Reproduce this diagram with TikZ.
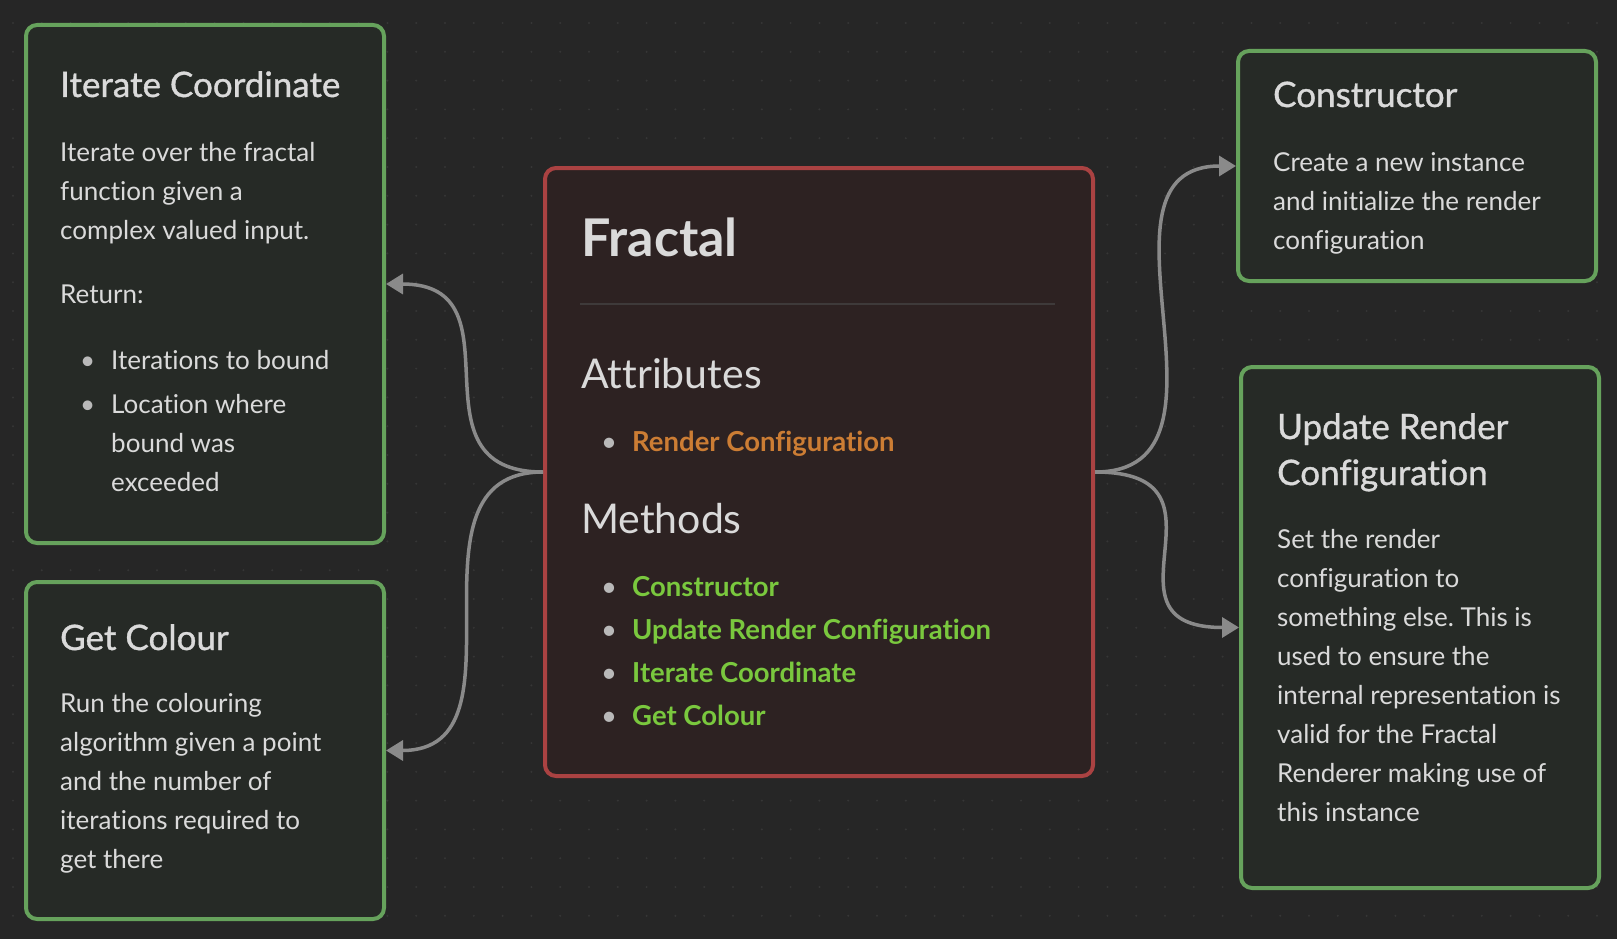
\documentclass[tikz,border=0pt]{standalone}
\usepackage{fontspec}
\setmainfont{Lato}[Ligatures=NoCommon]
\newfontfamily\semifont[FakeBold=1,Ligatures=NoCommon]{Lato}
\usetikzlibrary{arrows.meta,positioning}

\definecolor{canvasbg}{RGB}{38,38,38}
\definecolor{griddot}{RGB}{54,54,54}
\definecolor{cardfill}{RGB}{38,42,38}
\definecolor{cardgreen}{RGB}{102,162,92}
\definecolor{mainfill}{RGB}{45,34,34}
\definecolor{mainred}{RGB}{170,66,66}
\definecolor{textc}{RGB}{218,218,218}
\definecolor{edgegray}{RGB}{138,138,138}
\definecolor{linkorange}{RGB}{204,125,52}
\definecolor{linkgreen}{RGB}{122,200,62}
\definecolor{bulletgray}{RGB}{185,185,185}
\definecolor{rulec}{RGB}{62,58,58}

\newcommand{\dotitem}{\makebox[51pt][l]{\hspace*{20pt}\textcolor{bulletgray}{\textbullet}}}
\newcommand{\dotskip}{\hspace*{51pt}}

\begin{document}
\frenchspacing
\begin{tikzpicture}[
    x=1pt, y=-1pt,
    card/.style={draw=cardgreen, fill=cardfill, line width=4pt, rounded corners=11pt, inner sep=0pt, anchor=north west},
    mainbox/.style={card, draw=mainred, fill=mainfill},
    head/.style={anchor=base west, inner sep=0pt, text=textc, font=\fontsize{35}{46}\semifont, align=left},
    sub/.style={anchor=base west, inner sep=0pt, text=textc, font=\fontsize{41}{50}\selectfont},
    body/.style={anchor=base west, inner sep=0pt, text=textc, font=\fontsize{26}{39}\selectfont, align=left},
    linkfont/.style={font=\fontsize{27.5}{43}\selectfont},
    link/.style={edgegray, line width=3.5pt, -{Triangle[length=17pt,width=20pt]}}
]
  \fill[canvasbg] (0,0) rectangle (1617,939);
  \useasboundingbox (0,0) rectangle (1617,939);
  \foreach \i in {0,...,55}
    \foreach \j in {0,...,31}
      \fill[griddot] (13+28.8*\i,23+28.8*\j) circle (1.1pt);

  \node[card, minimum width=358pt, minimum height=518pt] (iter) at (24,23) {};
  \node[card, minimum width=358pt, minimum height=337pt] (getc) at (24,580) {};
  \node[card, minimum width=358pt, minimum height=230pt] (ctor) at (1236,49) {};
  \node[card, minimum width=358pt, minimum height=521pt] (upd) at (1239,365) {};
  \node[mainbox, minimum width=548pt, minimum height=608pt] (fractal) at (543,166) {};

  % multi-line texts sit on the baseline of their last line
  \node[head] (iterhead) at (60,97) {Iterate Coordinate};
  \node[body] (itertext) at (60,491) {Iterate over the fractal\\function given a\\complex valued input.\\[25pt]Return:\\[27pt]\dotitem Iterations to bound\\[5pt]\dotitem Location where\\\dotskip bound was\\\dotskip exceeded};

  \node[head] (getchead) at (60,650) {Get Colour};
  \node[body] (getctext) at (60,868) {Run the colouring\\algorithm given a point\\and the number of\\iterations required to\\get there};

  \node[head] (ctorhead) at (1273,107) {Constructor};
  \node[body] (ctortext) at (1273,249) {Create a new instance\\and initialize the render\\configuration};

  \node[head] (updhead) at (1277,485) {Update Render\\Configuration};
  \node[body] (updtext) at (1277,821) {Set the render\\configuration to\\something else. This is\\used to ensure the\\internal representation is\\valid for the Fractal\\Renderer making use of\\this instance};

  \node[sub, font=\fontsize{52}{60}\selectfont\bfseries] (fracttitle) at (581,256) {Fractal};
  \draw[rulec, line width=2pt] (580,304) -- (1055,304);
  \node[sub] (attrhead) at (581,388) {Attributes};
  \node[body, linkfont] (attrlist) at (581,451) {\dotitem\textcolor{linkorange}{\bfseries Render Configuration}};
  \node[sub] (methhead) at (581,533) {Methods};
  \node[body, linkfont] (methlist) at (581,725) {\dotitem\textcolor{linkgreen}{\bfseries Constructor}\\\dotitem\textcolor{linkgreen}{\bfseries Update Render Configuration}\\\dotitem\textcolor{linkgreen}{\bfseries Iterate Coordinate}\\\dotitem\textcolor{linkgreen}{\bfseries Get Colour}};

  \draw[link] (fractal.west) .. controls +(-140,0) and +(140,0) .. (iter.east);
  \draw[link] (fractal.west) .. controls +(-150,0) and +(150,0) .. (getc.east);
  \draw[link] (fractal.east) .. controls +(160,0) and +(-160,0) .. (ctor.west);
  \draw[link] (fractal.east) .. controls +(150,0) and +(-150,0) .. (upd.west);
\end{tikzpicture}
\end{document}
